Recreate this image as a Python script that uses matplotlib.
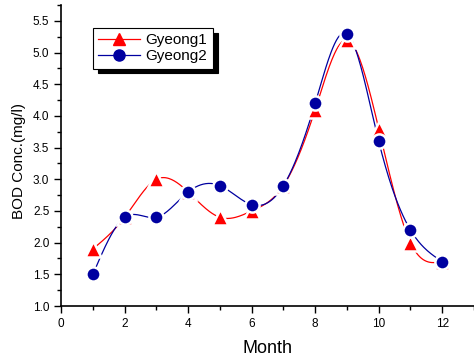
import numpy as np
import matplotlib.pyplot as plt
from matplotlib.ticker import MultipleLocator

months = [1, 2, 3, 4, 5, 6, 7, 8, 9, 10, 11, 12]
gyeong1 = [1.9, 2.4, 3.0, 2.8, 2.4, 2.5, 2.9, 4.1, 5.2, 3.8, 2.0, 1.7]
gyeong2 = [1.5, 2.4, 2.4, 2.8, 2.9, 2.6, 2.9, 4.2, 5.3, 3.6, 2.2, 1.7]


def natural_spline(x, y, n=400):
    """Natural cubic spline through the points, for the smooth connecting line"""
    x = np.asarray(x, float)
    y = np.asarray(y, float)
    k = len(x)
    h = np.diff(x)
    A = np.zeros((k, k))
    b = np.zeros(k)
    A[0, 0] = A[-1, -1] = 1
    for i in range(1, k - 1):
        A[i, i - 1] = h[i - 1]
        A[i, i] = 2 * (h[i - 1] + h[i])
        A[i, i + 1] = h[i]
        b[i] = 3 * ((y[i + 1] - y[i]) / h[i] - (y[i] - y[i - 1]) / h[i - 1])
    c = np.linalg.solve(A, b)
    xs = np.linspace(x[0], x[-1], n)
    idx = np.clip(np.searchsorted(x, xs) - 1, 0, k - 2)
    dx = xs - x[idx]
    bb = (y[idx + 1] - y[idx]) / h[idx] - h[idx] * (2 * c[idx] + c[idx + 1]) / 3
    dd = (c[idx + 1] - c[idx]) / (3 * h[idx])
    ys = y[idx] + bb * dx + c[idx] * dx ** 2 + dd * dx ** 3
    return xs, ys


plt.rcParams['font.family'] = ['Liberation Sans', 'DejaVu Sans']

fig = plt.figure(figsize=(4.74, 3.63), dpi=100)
ax = fig.add_axes([0.129, 0.157, 0.871, 0.829])

red = '#ff0000'
navy = '#0000a0'

for ys, col, mk, lab in [(gyeong1, red, '^', 'Gyeong1'), (gyeong2, navy, 'o', 'Gyeong2')]:
    sx, sy = natural_spline(months, ys)
    ax.plot(sx, sy, color=col, lw=0.9)
    # white marker edge leaves the small gap around each symbol, Origin style
    ax.plot(months, ys, ls='none', marker=mk, ms=11 if mk == '^' else 10.2,
            mfc=col, mec='white', mew=1.8, zorder=3)
    ax.plot([], [], color=col, lw=0.9, marker=mk, ms=8, mfc=col, mec=col, label=lab)

ax.set_xlim(0, 13)
ax.set_ylim(1.0, 5.75)
ax.xaxis.set_minor_locator(MultipleLocator(1))
ax.yaxis.set_minor_locator(MultipleLocator(0.25))
ax.set_xticks([0, 2, 4, 6, 8, 10, 12])
ax.set_yticks(np.arange(1.0, 5.51, 0.5))
ax.tick_params(which='major', direction='out', length=5, width=1, labelsize=8.5)
ax.tick_params(which='minor', direction='out', length=3, width=1)
for s in ['top', 'right']:
    ax.spines[s].set_visible(False)
for s in ['left', 'bottom']:
    ax.spines[s].set_linewidth(1.2)

ax.set_xlabel('Month', fontsize=13, labelpad=7)
ax.set_ylabel('BOD Conc.(mg/l)', fontsize=11)
ax.yaxis.set_label_coords(-0.085, 0.482)

leg = ax.legend(loc='upper left', bbox_to_anchor=(0.077, 0.925), borderaxespad=0,
                fancybox=False, edgecolor='black', framealpha=1, fontsize=11,
                handlelength=2.7, handletextpad=0.4, labelspacing=0.15,
                borderpad=0.35, shadow={'color': 'black', 'alpha': 1, 'ox': 3.5, 'oy': -3.5})
leg.get_frame().set_linewidth(0.8)

fig.savefig('out.png', dpi=100)
